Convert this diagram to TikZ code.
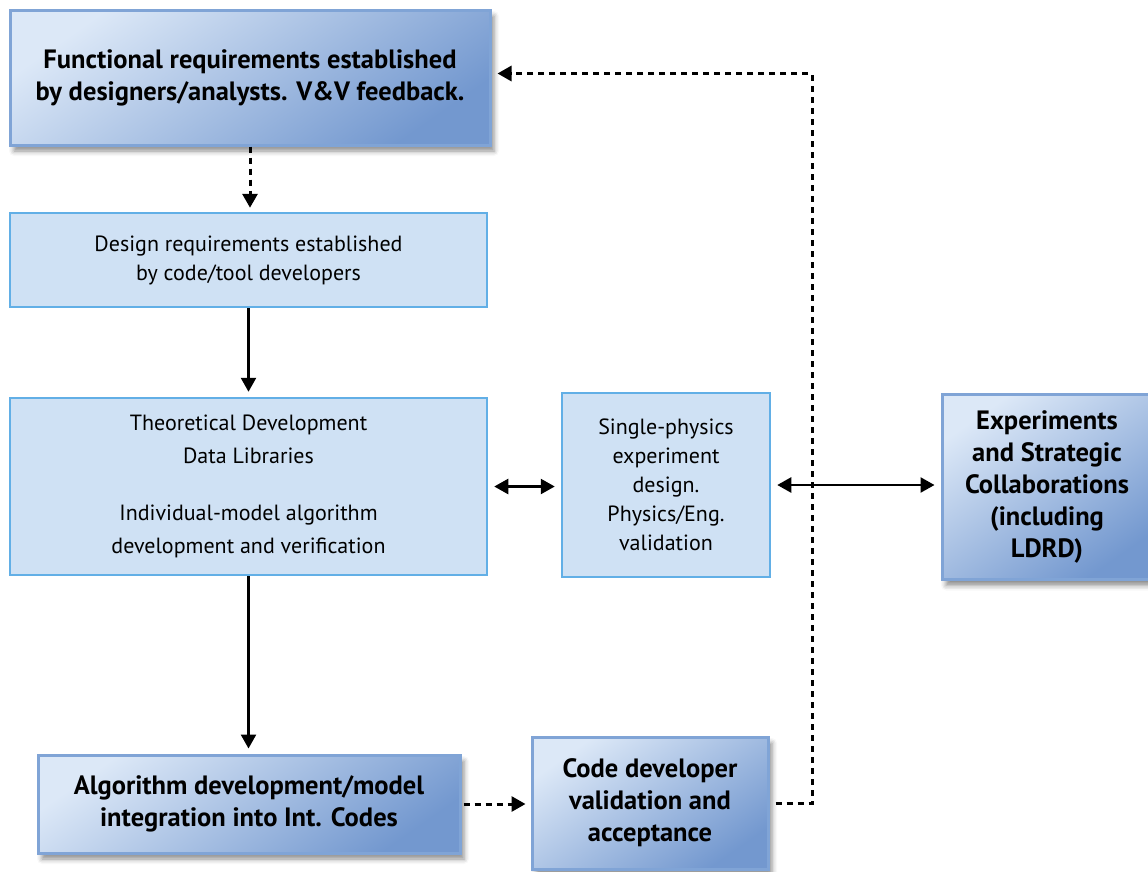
\documentclass[tikz,border=0pt]{standalone}
\usepackage{fontspec}
\setmainfont{PT Sans}
\usetikzlibrary{arrows.meta,shadows.blur}

\definecolor{gradLight}{HTML}{DCE8F7}
\definecolor{gradDark}{HTML}{7398CF}
\definecolor{gradEdge}{HTML}{80A4D6}
\definecolor{flatFill}{HTML}{CFE1F4}
\definecolor{flatEdge}{HTML}{62AFE6}

\tikzset{
  gradbox/.style={
    draw=gradEdge, line width=3pt,
    top color=gradLight, bottom color=gradDark, shading angle=35,
    blur shadow={shadow xshift=4pt, shadow yshift=-6pt, shadow blur radius=5pt, shadow opacity=45},
    align=center, inner sep=0pt,
    font=\fontsize{26.5}{32}\selectfont\bfseries},
  flatbox/.style={
    draw=flatEdge, line width=2.5pt, fill=flatFill,
    align=center, inner sep=0pt,
    font=\fontsize{22}{29}\selectfont},
  tip/.style={-{Triangle[length=14pt,width=15pt]}},
  bitip/.style={{Triangle[length=14pt,width=15pt]}-{Triangle[length=14pt,width=15pt]}},
  solidlink/.style={line width=2.5pt, black},
  dashlink/.style={line width=3pt, black, dash pattern=on 6pt off 5pt},
}

\begin{document}
\begin{tikzpicture}[x=1pt,y=-1pt]
  \useasboundingbox (0,0) rectangle (1148,871);

  % boxes
  \node[gradbox, minimum width=480, minimum height=135] (F) at (250,77.5)
    {Functional requirements established\\by designers/analysts. V\&V feedback.};
  \node[flatbox, minimum width=477, minimum height=94] (D) at (248.5,260)
    {Design requirements established\\by code/tool developers};
  \node[flatbox, minimum width=477, minimum height=177, font=\fontsize{22}{33}\selectfont] (T) at (248.5,486.5)
    {Theoretical Development\\Data Libraries\\[24pt]Individual-model algorithm\\development and verification};
  \node[flatbox, minimum width=208, minimum height=184] (S) at (666,485)
    {Single-physics\\experiment\\design.\\Physics/Eng.\\validation};
  \node[gradbox, minimum width=210, minimum height=185] (E) at (1047,487)
    {Experiments\\and Strategic\\Collaborations\\(including\\LDRD)};
  \node[gradbox, minimum width=422, minimum height=98] (A) at (249,804)
    {Algorithm development/model\\integration into Int. Codes};
  \node[gradbox, minimum width=236, minimum height=132] (C) at (650,803)
    {Code developer\\validation and\\acceptance};

  \coordinate (turn) at (812,803);

  % connectors
  \draw[dashlink, tip, shorten >=4pt] (F.south) -- (F.south |- D.north);
  \draw[solidlink, tip, shorten >=5pt] (D.south) -- (D.south |- T.north);
  \draw[solidlink, tip, shorten >=5pt] (T.south) -- (T.south |- A.north);
  \draw[solidlink, bitip, shorten <=6pt, shorten >=6pt] (T.east) -- (T.east -| S.west);
  \draw[solidlink, bitip, shorten <=6pt, shorten >=6pt] (S.east) -- (S.east -| E.west);
  \draw[dashlink, tip, shorten <=2pt, shorten >=5pt] (A.east) -- (A.east -| C.west);
  \draw[dashlink, tip, shorten <=6pt, shorten >=6pt] (C.east) -- (C.east -| turn) |- ([yshift=4pt]F.east);
\end{tikzpicture}
\end{document}
